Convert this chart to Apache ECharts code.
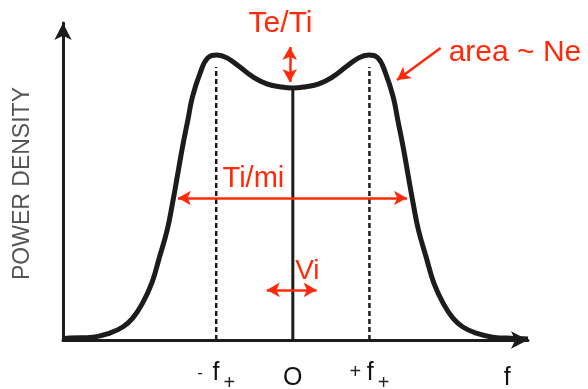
<!DOCTYPE html>
<html><head><meta charset="utf-8">
<script src="https://cdn.jsdelivr.net/npm/echarts@6/dist/echarts.min.js"></script>
<style>html,body{margin:0;padding:0;background:#fff}#c{width:588px;height:389px}</style>
</head><body><div id="c"></div>
<script>
// Ion-line spectrum: frequency in units of the ion-acoustic peak f+,
// power density normalised to the top of the axis.
const freq = [-3.0, -2.91, -2.61, -2.39, -2.22, -2.09, -1.96, -1.84, -1.74, -1.64, -1.57, -1.5, -1.44, -1.37, -1.31, -1.21, -1.11, -0.99, -0.86, -0.69, -0.52, -0.34, -0.17, 0,
              0.17, 0.34, 0.52, 0.69, 0.86, 0.99, 1.11, 1.21, 1.31, 1.37, 1.44, 1.5, 1.57, 1.64, 1.74, 1.84, 1.96, 2.09, 2.22, 2.39, 2.61, 2.9, 3.07];
const power = [0.003, 0.006, 0.009, 0.022, 0.041, 0.069, 0.117, 0.18, 0.262, 0.347, 0.432, 0.527, 0.609, 0.694, 0.767, 0.842, 0.89, 0.899, 0.89, 0.861, 0.83, 0.808, 0.799, 0.795,
               0.799, 0.808, 0.83, 0.861, 0.89, 0.899, 0.89, 0.842, 0.767, 0.694, 0.609, 0.527, 0.432, 0.347, 0.262, 0.18, 0.117, 0.069, 0.041, 0.022, 0.009, 0.005, 0.003];
const peakFreqs = [-1, 1];
const peakLineTop = 0.861;
const centreLevel = 0.795;
const tickValues = [-1, 0, 1, 2.8];
const tickLabels = ['{m|-  }{g|f}{s|+}', '{f|O}', '{p|+ }{g|f}{s|+}', '{f|f}'];
const axisTitle = 'POWER DENSITY';
const notes = ['Te/Ti', 'area ~ Ne', 'Ti/mi', 'Vi'];

const RED = '#ff2a0a';
const INK = '#1c1c1c';
const FONT = 'Liberation Sans, Arial, sans-serif';

const chart = echarts.init(document.getElementById('c'), null, { renderer: 'canvas' });

const curve = freq.map((f, i) => [f, power[i]]);

const redArrow = {
  symbol: ['arrow', 'arrow'],
  symbolSize: [11, 13],
  lineStyle: { color: RED, width: 2.5, type: 'solid' },
  label: { show: false },
  emphasis: { disabled: true },
  silent: true,
  animation: false
};

const noteStyle = (size) => ({
  show: true, position: 'inside', color: RED, fontSize: size, fontFamily: FONT
});

chart.setOption({
  animation: false,
  backgroundColor: '#fff',
  grid: { left: 63, right: 60, top: 23, bottom: 49, outerBoundsMode: 'none', containLabel: false },
  xAxis: {
    type: 'value', min: -3, max: 3.07,
    splitLine: { show: false },
    axisLine: { onZero: false, symbol: ['none', 'arrow'], symbolSize: [13, 17], lineStyle: { color: INK, width: 3 } },
    axisTick: { show: false },
    axisLabel: {
      customValues: tickValues,
      margin: 23,
      formatter: (v) => tickLabels[tickValues.indexOf(v)] || '',
      rich: {
        f: { fontSize: 25, lineHeight: 30, color: '#111', fontFamily: FONT },
        g: { fontSize: 25, lineHeight: 30, padding: [0, 0, 10, 0], color: '#111', fontFamily: FONT },
        m: { fontSize: 17, lineHeight: 30, padding: [0, 0, 10, 0], color: '#222', fontFamily: FONT },
        p: { fontSize: 20, lineHeight: 28, padding: [0, 0, 12, 0], color: '#222', fontFamily: FONT },
        s: { fontSize: 20, lineHeight: 30, padding: [10, 0, 0, 4], color: '#222', fontFamily: FONT }
      }
    }
  },
  yAxis: {
    type: 'value', min: 0, max: 1,
    splitLine: { show: false },
    axisLine: { show: true, onZero: false, symbol: ['none', 'arrow'], symbolSize: [13, 17], lineStyle: { color: INK, width: 3 } },
    axisTick: { show: false },
    axisLabel: { show: false },
    name: axisTitle,
    nameLocation: 'middle',
    nameRotate: 90,
    nameGap: 29,
    nameTextStyle: { fontSize: 23, color: '#555', fontFamily: FONT, padding: [0, 4, 0, 0] }
  },
  series: [
    {
      type: 'line', data: curve, smooth: 0.45, showSymbol: false, symbol: 'none',
      lineStyle: { color: INK, width: 5 }, z: 3, silent: true,
      markPoint: {
        symbol: 'circle', symbolSize: 1, itemStyle: { color: 'rgba(0,0,0,0)' }, silent: true,
        data: [
          { coord: [-0.16, 0.997], label: Object.assign(noteStyle(30), { formatter: notes[0] }) },
          { coord: [2.9, 0.905], label: Object.assign(noteStyle(30), { formatter: notes[1] }) },
          { coord: [-0.515, 0.508], label: Object.assign(noteStyle(29), { formatter: notes[2] }) },
          { coord: [0.19, 0.216], label: Object.assign(noteStyle(28), { formatter: notes[3] }) }
        ]
      },
      markLine: Object.assign({}, redArrow, {
        data: [
          [{ coord: [-0.04, 0.924] }, { coord: [-0.04, 0.814] }],
          [{ coord: [-1.5, 0.448] }, { coord: [1.49, 0.448] }],
          [{ coord: [-0.34, 0.158] }, { coord: [0.31, 0.158] }]
        ]
      })
    },
    {
      // curved pointer from the area label down to the curve
      type: 'line', data: [], silent: true,
      markLine: Object.assign({}, redArrow, {
        symbol: ['none', 'arrow'],
        lineStyle: { color: RED, width: 2.5, type: 'solid', curveness: -0.4 },
        data: [[{ coord: [1.93, 0.921] }, { coord: [1.36, 0.82] }]]
      })
    },
    {
      type: 'line', data: [[peakFreqs[0], 0], [peakFreqs[0], peakLineTop]], symbol: 'none', silent: true,
      lineStyle: { color: INK, width: 2.5, type: [5, 3] }, z: 2
    },
    {
      type: 'line', data: [[peakFreqs[1], 0], [peakFreqs[1], peakLineTop]], symbol: 'none', silent: true,
      lineStyle: { color: INK, width: 2.5, type: [5, 3] }, z: 2
    },
    {
      type: 'line', data: [[0, 0], [0, centreLevel]], symbol: 'none', silent: true,
      lineStyle: { color: INK, width: 3 }, z: 2
    }
  ]
});
</script>
</body></html>
